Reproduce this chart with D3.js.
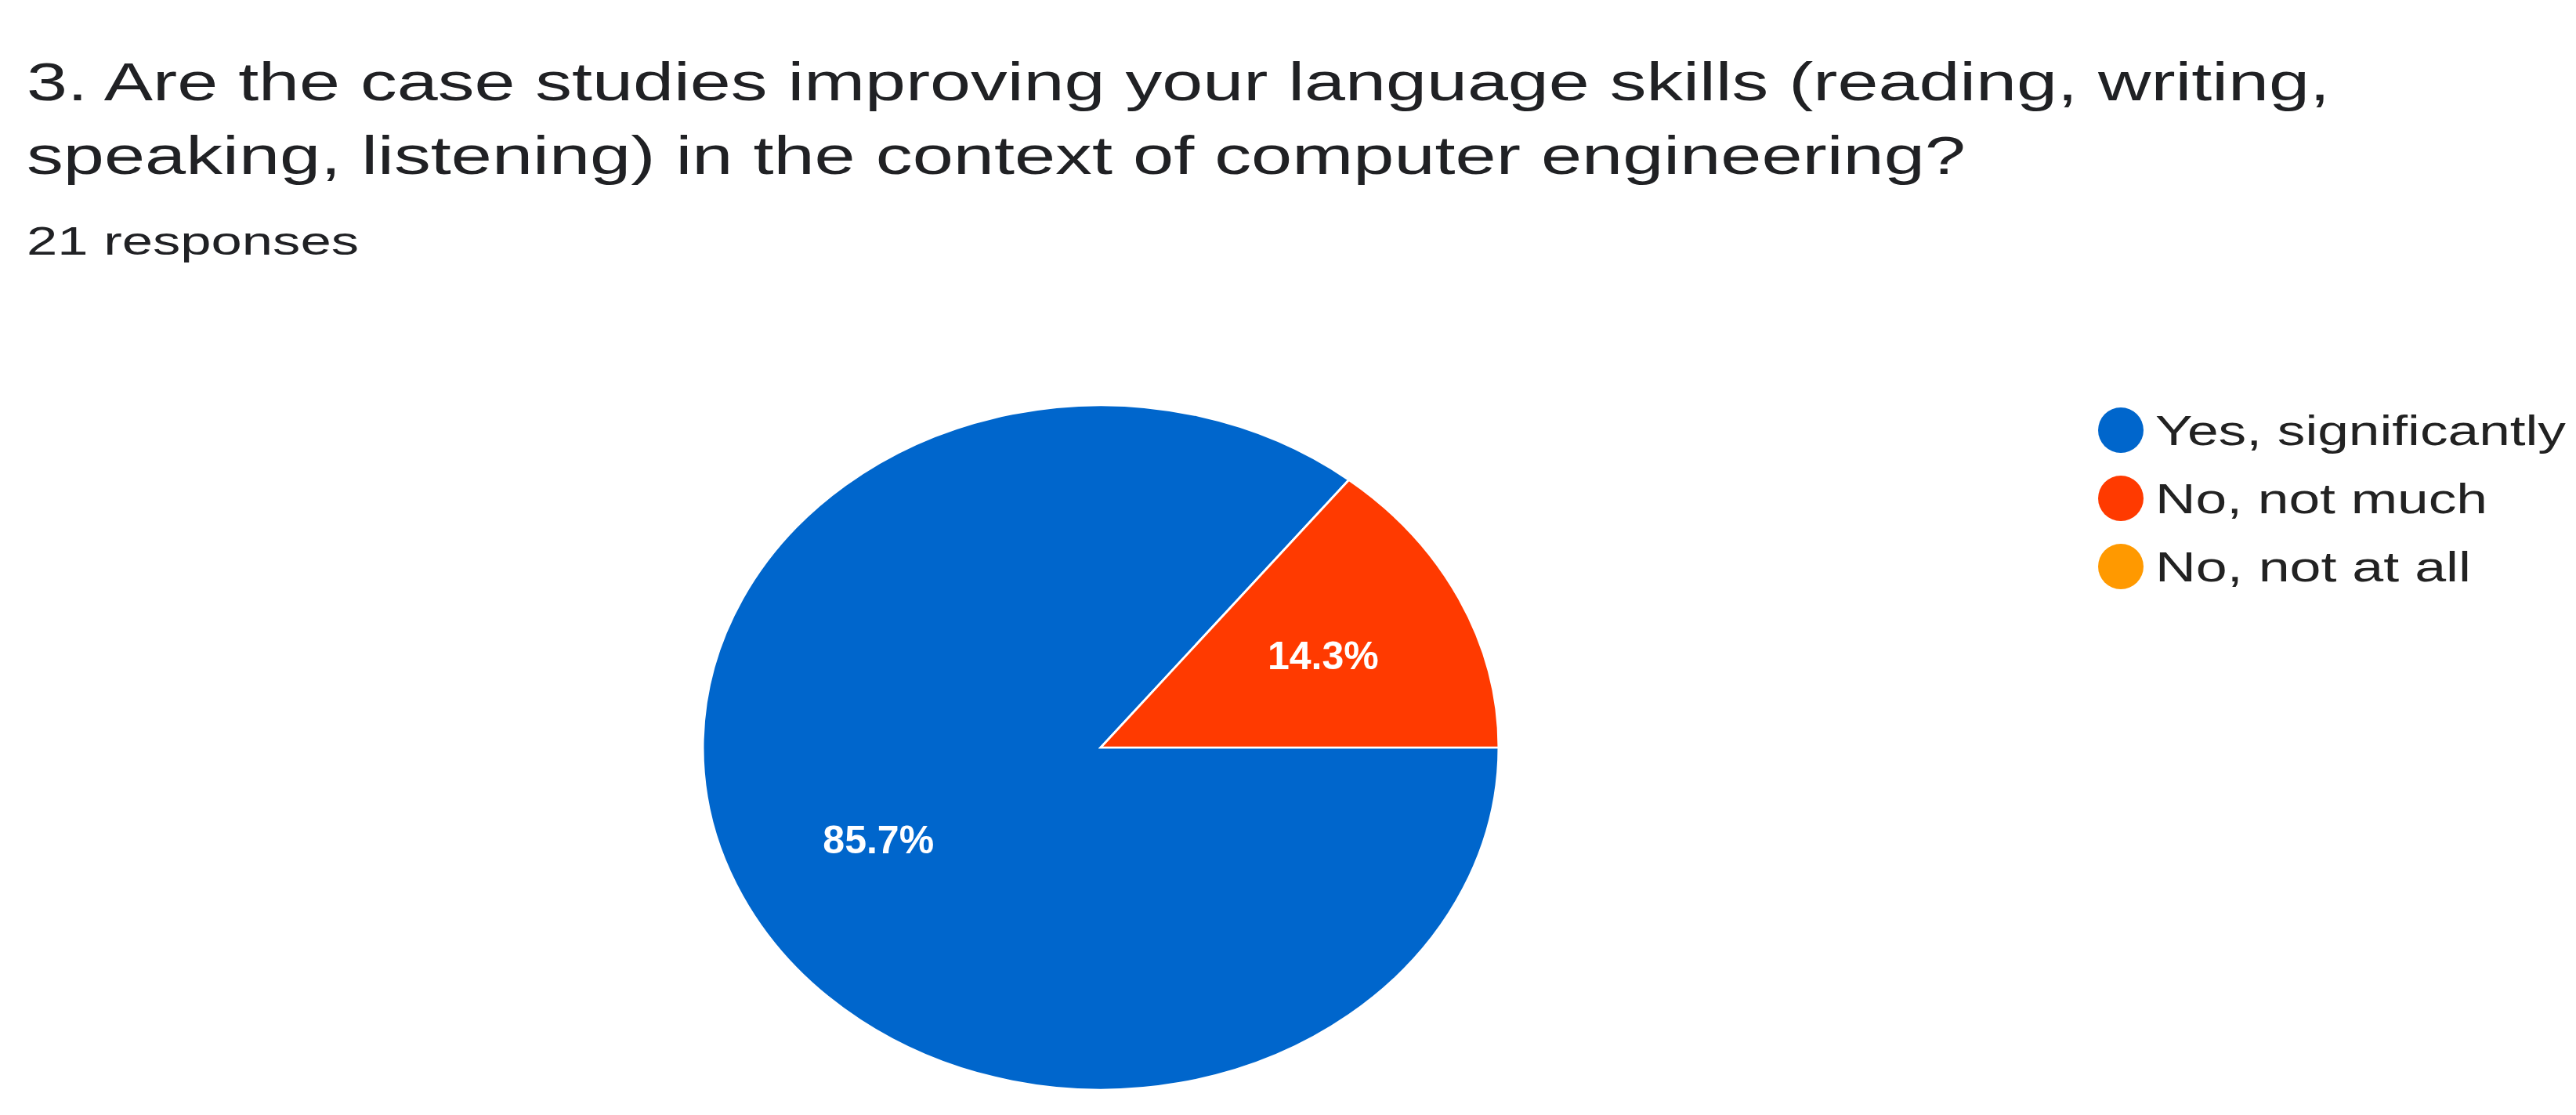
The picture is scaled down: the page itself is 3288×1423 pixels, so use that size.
<!DOCTYPE html>
<html>
<head>
<meta charset="utf-8">
<style>
  body { margin: 0; background: #fff; font-family: "Liberation Sans", Arial, sans-serif; }
</style>
</head>
<body>
<script src="https://cdn.jsdelivr.net/npm/d3@7"></script>
<script>
const title = ["3. Are the case studies improving your language skills (reading, writing,",
               "speaking, listening) in the context of computer engineering?"];
const titleWidths = [2940, 2475];
const subtitle = "21 responses";
const categories = ["Yes, significantly", "No, not much", "No, not at all"];
const legendWidths = [524, 424, 403];
const counts = [18, 3, 0];
const colors = ["#0066cc", "#ff3a00", "#ff9900"];

const W = 3288, H = 1423;
const svg = d3.select("body").append("svg").attr("width", W).attr("height", H);

svg.selectAll("text.title").data(title).join("text")
  .attr("x", 34).attr("y", (d, i) => 128 + i * 94)
  .attr("font-size", 68).attr("fill", "#202124")
  .attr("textLength", (d, i) => titleWidths[i]).attr("lengthAdjust", "spacingAndGlyphs")
  .text(d => d);
svg.append("text").attr("x", 34).attr("y", 325)
  .attr("font-size", 50).attr("fill", "#202124")
  .attr("textLength", 424).attr("lengthAdjust", "spacingAndGlyphs").text(subtitle);

const total = d3.sum(counts);
const color = d3.scaleOrdinal(categories, colors);
const pie = d3.pie().sort(null).startAngle(Math.PI / 2).endAngle(Math.PI / 2 + 2 * Math.PI);
const r = 508;
const arc = d3.arc().innerRadius(0).outerRadius(r);
const arcs = pie(counts).map((a, i) => ({ ...a, cat: categories[i] }));

const g = svg.append("g").attr("transform", "translate(1405,954) scale(1,0.86)");
g.selectAll("path").data(arcs.filter(d => d.value > 0)).join("path")
  .attr("d", arc).attr("fill", d => color(d.cat))
  .attr("stroke", "#fff").attr("stroke-width", 3);

const labelArc = d3.arc().innerRadius(r * 0.62).outerRadius(r * 0.62);
svg.append("g").selectAll("text").data(arcs.filter(d => d.value > 0)).join("text")
  .attr("transform", d => {
    const [x, y] = labelArc.centroid(d);
    return `translate(${1405 + x},${954 + y * 0.86})`;
  })
  .attr("text-anchor", "middle").attr("dy", "0.35em")
  .attr("font-size", 50).attr("font-weight", "bold").attr("fill", "#fff")
  .text(d => (d.value / total * 100).toFixed(1) + "%");

const leg = svg.append("g").selectAll("g").data(categories).join("g")
  .attr("transform", (d, i) => `translate(2707,${549 + i * 87})`);
leg.append("circle").attr("r", 29).attr("fill", d => color(d));
leg.append("text").attr("x", 44).attr("dy", "0.35em")
  .attr("font-size", 54).attr("fill", "#222")
  .attr("textLength", (d, i) => legendWidths[i]).attr("lengthAdjust", "spacingAndGlyphs")
  .text(d => d);
</script>
</body>
</html>
